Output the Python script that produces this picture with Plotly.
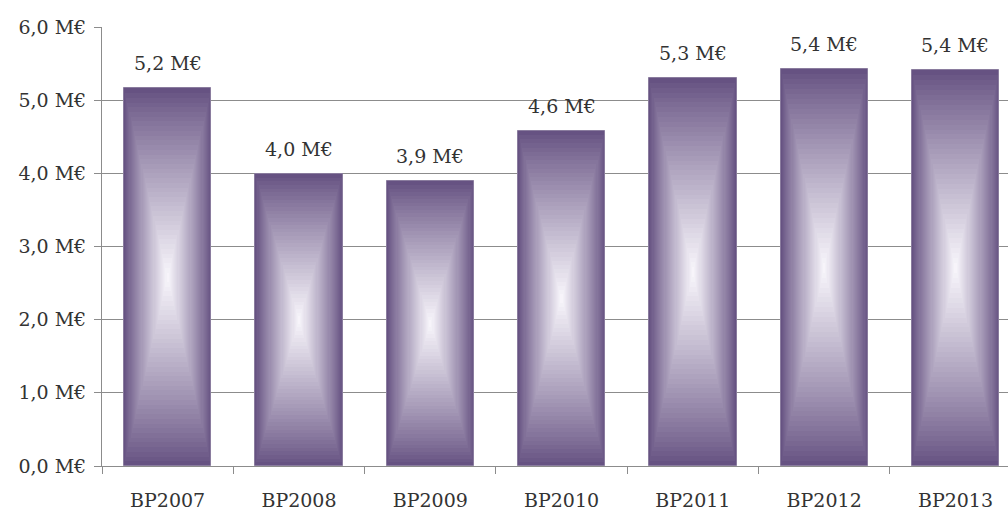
import plotly.graph_objects as go

categories = ["BP2007", "BP2008", "BP2009", "BP2010", "BP2011", "BP2012", "BP2013"]
values = [5.16, 3.99, 3.89, 4.58, 5.30, 5.42, 5.41]
value_labels = ["5,2 M€", "4,0 M€", "3,9 M€", "4,6 M€", "5,3 M€", "5,4 M€", "5,4 M€"]
y_tickvals = [0, 1, 2, 3, 4, 5, 6]
y_ticktext = ["0,0 M€", "1,0 M€", "2,0 M€", "3,0 M€", "4,0 M€", "5,0 M€", "6,0 M€"]

FONT = "DejaVu Serif"
FSIZE = 19
BAR_W = 0.665
DARK = (102, 82, 130)
LIGHT = (250, 248, 253)
N = 40

fig = go.Figure()
for i in range(N):
    t = i / N
    s = t ** 0.9
    col = tuple(int(round(DARK[k] + (LIGHT[k] - DARK[k]) * s)) for k in range(3))
    fig.add_trace(go.Bar(
        x=categories,
        y=[v * (1 - t) for v in values],
        base=[v * t / 2 for v in values],
        width=[BAR_W * (1 - t)] * len(values),
        marker=dict(color="rgb(%d,%d,%d)" % col,
                    line=dict(width=1 if i == 0 else 0, color="#8a7c9e")),
        hoverinfo="skip",
        showlegend=False,
    ))

for c, v, lab in zip(categories, values, value_labels):
    fig.add_annotation(x=c, y=v, text=lab, showarrow=False, yanchor="bottom",
                       yshift=12, font=dict(family=FONT, size=FSIZE, color="#333"))

fig.update_layout(
    barmode="overlay",
    width=1008, height=514,
    margin=dict(l=102, r=0, t=27, b=48),
    paper_bgcolor="white", plot_bgcolor="white",
    font=dict(family=FONT, size=FSIZE, color="#333"),
    bargap=0,
)
fig.update_xaxes(
    type="category", range=[-0.5, 6.40],
    showline=True, linecolor="#8c8c8c", linewidth=1,
    ticks="outside", tickson="boundaries", ticklen=7, tickcolor="#8c8c8c",
    ticklabelstandoff=17, showgrid=False,
)
fig.update_yaxes(
    range=[0, 6], tickvals=y_tickvals, ticktext=y_ticktext,
    showline=True, linecolor="#8c8c8c", linewidth=1,
    ticks="outside", ticklen=7, tickcolor="#8c8c8c",
    showgrid=True, gridcolor="#8c8c8c", gridwidth=1,
    zeroline=False, ticklabelstandoff=4,
)

fig.write_html("out.html")
